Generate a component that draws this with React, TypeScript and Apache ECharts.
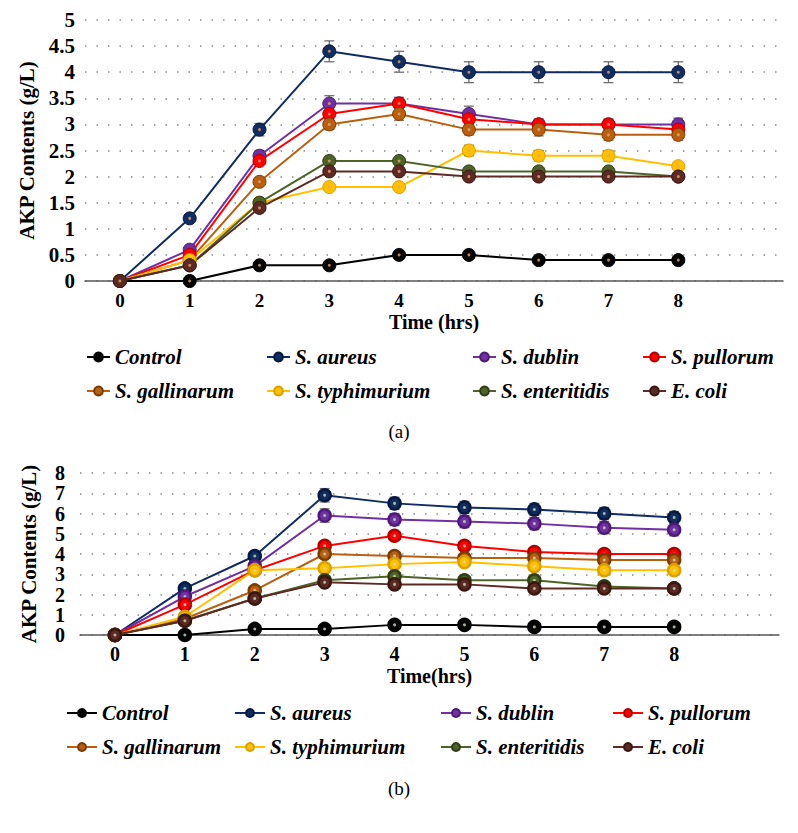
import React, { useEffect, useRef } from "react";
import * as echarts from "echarts";

// ---------- DATA ----------
const hours = ["0", "1", "2", "3", "4", "5", "6", "7", "8", ""];
const seriesNames = [
  "Control",
  "S. aureus",
  "S. dublin",
  "S. pullorum",
  "S. gallinarum",
  "S. typhimurium",
  "S. enteritidis",
  "E. coli",
];
const seriesColors = ["#000000", "#102c60", "#7030a0", "#ff0000", "#b8600f", "#ffc000", "#4f6228", "#5c2a22"];
const borderColors = ["#000000", "#061a40", "#4e1a78", "#b00000", "#7a3c05", "#d9a000", "#2f3e14", "#3a1812"];

// Chart (a)
const controlA = [0, 0, 0.3, 0.3, 0.5, 0.5, 0.4, 0.4, 0.4];
const aureusA = [0, 1.2, 2.9, 4.4, 4.2, 4.0, 4.0, 4.0, 4.0];
const dublinA = [0, 0.6, 2.4, 3.4, 3.4, 3.2, 3.0, 3.0, 3.0];
const pullorumA = [0, 0.5, 2.3, 3.2, 3.4, 3.1, 3.0, 3.0, 2.9];
const gallinarumA = [0, 0.4, 1.9, 3.0, 3.2, 2.9, 2.9, 2.8, 2.8];
const typhimuriumA = [0, 0.4, 1.5, 1.8, 1.8, 2.5, 2.4, 2.4, 2.2];
const enteritidisA = [0, 0.3, 1.5, 2.3, 2.3, 2.1, 2.1, 2.1, 2.0];
const ecoliA = [0, 0.3, 1.4, 2.1, 2.1, 2.0, 2.0, 2.0, 2.0];

const errZero = [0, 0, 0, 0, 0, 0, 0, 0, 0];
const aureusErrA = [0, 0.05, 0.12, 0.2, 0.2, 0.2, 0.2, 0.2, 0.2];
const dublinErrA = [0, 0, 0.1, 0.15, 0.1, 0.15, 0.1, 0.1, 0.12];
const pullorumErrA = [0, 0, 0, 0.1, 0.12, 0.1, 0.1, 0.1, 0];
const gallinarumErrA = [0, 0, 0, 0.1, 0.12, 0.1, 0.12, 0.1, 0.1];
const typhimuriumErrA = [0, 0, 0, 0, 0, 0.1, 0.1, 0.1, 0.05];

// Chart (b)
const controlB = [0, 0, 0.3, 0.3, 0.5, 0.5, 0.4, 0.4, 0.4];
const aureusB = [0, 2.3, 3.9, 6.9, 6.5, 6.3, 6.2, 6.0, 5.8];
const dublinB = [0, 1.9, 3.4, 5.9, 5.7, 5.6, 5.5, 5.3, 5.2];
const pullorumB = [0, 1.5, 3.2, 4.4, 4.9, 4.4, 4.1, 4.0, 4.0];
const gallinarumB = [0, 0.8, 2.2, 4.0, 3.9, 3.8, 3.8, 3.7, 3.7];
const typhimuriumB = [0, 0.9, 3.2, 3.3, 3.5, 3.6, 3.4, 3.2, 3.2];
const enteritidisB = [0, 0.7, 1.8, 2.7, 2.9, 2.7, 2.7, 2.4, 2.3];
const ecoliB = [0, 0.7, 1.8, 2.6, 2.5, 2.5, 2.3, 2.3, 2.3];

const aureusErrB = [0, 0, 0.15, 0.33, 0.3, 0.3, 0.3, 0.3, 0.3];
const dublinErrB = [0, 0, 0, 0.33, 0.3, 0.3, 0.3, 0.3, 0.3];

const yTicksA = { min: 0, max: 5, interval: 0.5 };
const yTicksB = { min: 0, max: 8, interval: 1 };

const valuesA = [controlA, aureusA, dublinA, pullorumA, gallinarumA, typhimuriumA, enteritidisA, ecoliA];
const errorsA = [errZero, aureusErrA, dublinErrA, pullorumErrA, gallinarumErrA, typhimuriumErrA, errZero, errZero];
const valuesB = [controlB, aureusB, dublinB, pullorumB, gallinarumB, typhimuriumB, enteritidisB, ecoliB];
const errorsB = [errZero, aureusErrB, dublinErrB, errZero, errZero, errZero, errZero, errZero];

const FONT = "'Liberation Serif', 'Times New Roman', serif";

function buildSeries(
  values: number[][],
  errors: number[][],
  axisIndex: number,
  symbolSize: number,
  borderWidth: number,
  dotColor: string
) {
  const out: any[] = [];
  values.forEach((vals, i) => {
    const errs = errors[i];
    if (errs.some((e) => e > 0)) {
      out.push({
        type: "custom",
        name: `err-${axisIndex}-${i}`,
        xAxisIndex: axisIndex,
        yAxisIndex: axisIndex,
        silent: true,
        z: 1,
        data: vals.map((v, k) => [k, v, errs[k]]).filter((d) => d[2] > 0),
        renderItem: (params: any, api: any) => {
          const x = api.value(0);
          const y = api.value(1);
          const e = api.value(2);
          const hi = api.coord([x, y + e]);
          const lo = api.coord([x, y - e]);
          const w = 5;
          const st = { stroke: "#6e6e6e", lineWidth: 1.3 };
          return {
            type: "group",
            children: [
              { type: "line", shape: { x1: hi[0], y1: hi[1], x2: lo[0], y2: lo[1] }, style: st },
              { type: "line", shape: { x1: hi[0] - w, y1: hi[1], x2: hi[0] + w, y2: hi[1] }, style: st },
              { type: "line", shape: { x1: lo[0] - w, y1: lo[1], x2: lo[0] + w, y2: lo[1] }, style: st },
            ],
          };
        },
      });
    }
    out.push({
      type: "line",
      name: seriesNames[i],
      xAxisIndex: axisIndex,
      yAxisIndex: axisIndex,
      data: vals,
      symbol: "circle",
      symbolSize,
      z: 2,
      lineStyle: { color: seriesColors[i], width: 2 },
      itemStyle: { color: seriesColors[i], borderColor: borderColors[i], borderWidth },
    });
    out.push({
      type: "scatter",
      name: `dot-${axisIndex}-${i}`,
      xAxisIndex: axisIndex,
      yAxisIndex: axisIndex,
      data: vals,
      symbol: "circle",
      symbolSize: 3,
      silent: true,
      z: 2,
      itemStyle: { color: dotColor },
    });
  });
  return out;
}

function buildLegends(
  rowTops: number[],
  textLefts: number[],
  iconWidth: number,
  iconHeight: number
) {
  const legends: any[] = [];
  seriesNames.forEach((name, i) => {
    const row = Math.floor(i / 4);
    const col = i % 4;
    legends.push({
      data: [name],
      left: textLefts[col] - iconWidth - 5,
      top: rowTops[row],
      padding: 0,
      itemWidth: iconWidth,
      itemHeight: iconHeight,
      selectedMode: false,
      textStyle: {
        fontFamily: FONT,
        fontStyle: "italic",
        fontWeight: "bold",
        fontSize: 21,
        color: "#000",
        lineHeight: 24,
      },
    });
  });
  return legends;
}

export default function App() {
  const ref = useRef<HTMLDivElement>(null);

  useEffect(() => {
    if (!ref.current) return;
    const chart = echarts.init(ref.current, null, { renderer: "svg" });

    const splitLine = {
      show: true,
      lineStyle: { color: "#8c8c8c", width: 1.5, type: [1.5, 10] as any },
    };

    const option: any = {
      animation: false,
      backgroundColor: "#ffffff",
      grid: [
        { left: 85, top: 20, width: 698, height: 261 },
        { left: 80, top: 473, width: 699, height: 162 },
      ],
      xAxis: [
        {
          type: "category",
          gridIndex: 0,
          data: hours,
          boundaryGap: true,
          axisTick: { show: false },
          axisLine: { lineStyle: { color: "#555", width: 1.5 } },
          axisLabel: { fontFamily: FONT, fontWeight: "bold", fontSize: 19, color: "#000", margin: 10 },
          name: "Time (hrs)",
          nameLocation: "middle",
          nameGap: 31,
          nameTextStyle: { fontFamily: FONT, fontWeight: "bold", fontSize: 20, color: "#000" },
        },
        {
          type: "category",
          gridIndex: 1,
          data: hours,
          boundaryGap: true,
          axisTick: { show: false },
          axisLine: { lineStyle: { color: "#555", width: 1.5 } },
          axisLabel: { fontFamily: FONT, fontWeight: "bold", fontSize: 20, color: "#000", margin: 9 },
          name: "Time(hrs)",
          nameLocation: "middle",
          nameGap: 31,
          nameTextStyle: { fontFamily: FONT, fontWeight: "bold", fontSize: 20, color: "#000" },
        },
      ],
      yAxis: [
        {
          type: "value",
          gridIndex: 0,
          ...yTicksA,
          axisLine: { show: false },
          axisTick: { show: false },
          splitLine,
          axisLabel: { fontFamily: FONT, fontWeight: "bold", fontSize: 21, color: "#000", margin: 10 },
          name: "AKP Contents (g/L)",
          nameLocation: "middle",
          nameRotate: 90,
          nameGap: 48,
          nameTextStyle: { fontFamily: FONT, fontWeight: "bold", fontSize: 21, color: "#000" },
        },
        {
          type: "value",
          gridIndex: 1,
          ...yTicksB,
          axisLine: { show: false },
          axisTick: { show: false },
          splitLine,
          axisLabel: {
            fontFamily: FONT,
            fontWeight: "bold",
            fontSize: 20,
            lineHeight: 19,
            color: "#000",
            margin: 15,
            showMinLabel: true,
            showMaxLabel: true,
            hideOverlap: false,
          },
          name: "AKP Contents (g/L)",
          nameLocation: "middle",
          nameRotate: 90,
          nameGap: 41,
          nameTextStyle: { fontFamily: FONT, fontWeight: "bold", fontSize: 21, color: "#000" },
        },
      ],
      legend: [
        ...buildLegends([345, 379], [114, 294, 500, 670], 23, 11),
        ...buildLegends([701, 735], [101, 269, 475, 647], 30, 10),
      ],
      graphic: [
        {
          type: "text",
          left: "center",
          top: 422,
          style: { text: "(a)", font: `19px ${FONT}`, fill: "#000" },
        },
        {
          type: "text",
          left: "center",
          top: 779,
          style: { text: "(b)", font: `19px ${FONT}`, fill: "#000" },
        },
      ],
      series: [
        ...buildSeries(valuesA, errorsA, 0, 13, 1, "#eaa26a"),
        ...buildSeries(valuesB, errorsB, 1, 12, 2.5, "#c8dcc0"),
      ],
    };

    chart.setOption(option);
    return () => chart.dispose();
  }, []);

  return (
    <div
      ref={ref}
      style={{ position: "absolute", left: 0, top: 0, width: 798, height: 833, background: "#fff" }}
    />
  );
}
